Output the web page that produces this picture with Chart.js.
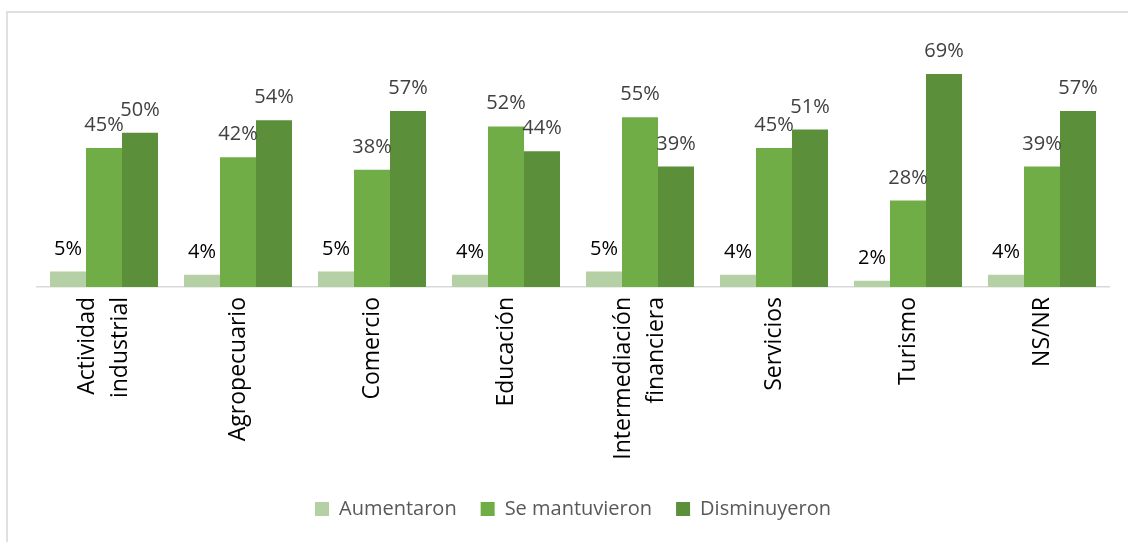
<!DOCTYPE html>
<html>
<head>
<meta charset="utf-8">
<script src="https://cdn.jsdelivr.net/npm/chart.js@4"></script>
<style>
  html, body { margin: 0; padding: 0; background: #fff; }
  #wrap { position: relative; width: 1128px; height: 542px; overflow: hidden; }
  #frame { position: absolute; left: 6px; top: 11px; width: 1200px; height: 600px; border: 2px solid #e0e0e0; box-sizing: border-box; }
  #chart { position: absolute; left: 0; top: 0; }
</style>
</head>
<body>
<div id="wrap">
  <div id="frame"></div>
  <canvas id="chart" width="1128" height="542"></canvas>
</div>
<script>
const categories = [
  ['Actividad', 'industrial'],
  'Agropecuario',
  'Comercio',
  'Educación',
  ['Intermediación', 'financiera'],
  'Servicios',
  'Turismo',
  'NS/NR'
];
const aumentaron = [5, 4, 5, 4, 5, 4, 2, 4];
const seMantuvieron = [45, 42, 38, 52, 55, 45, 28, 39];
const disminuyeron = [50, 54, 57, 44, 39, 51, 69, 57];

// labels above each bar
const barLabels = {
  id: 'barLabels',
  afterDatasetsDraw(chart) {
    const c = chart.ctx;
    c.save();
    c.font = '20px "Open Sans"';
    c.textAlign = 'center';
    c.textBaseline = 'alphabetic';
    chart.data.datasets.forEach((ds, i) => {
      const meta = chart.getDatasetMeta(i);
      c.fillStyle = i === 0 ? '#000000' : '#404040';
      meta.data.forEach((bar, j) => {
        c.fillText(ds.data[j] + '%', bar.x, bar.y - 17);
      });
    });
    c.restore();
  }
};

// center two-line rotated tick labels on their tick (chart.js puts the first line on it)
const centerMultiline = {
  id: 'centerMultiline',
  beforeDraw(chart) {
    const items = chart.scales.x.getLabelItems();
    items.forEach(item => {
      if (Array.isArray(item.label) && !item._shifted) {
        const n = item.label.length;
        item.options.translation[0] -= (n - 1) * item.font.lineHeight / 2;
        item._shifted = true;
      }
    });
  }
};

const ctx = document.getElementById('chart');

const chart = new Chart(ctx, {
  type: 'bar',
  data: {
    labels: categories,
    datasets: [
      { label: 'Aumentaron', data: aumentaron, backgroundColor: '#b4d0a4' },
      { label: 'Se mantuvieron', data: seMantuvieron, backgroundColor: '#70ad47' },
      { label: 'Disminuyeron', data: disminuyeron, backgroundColor: '#5b8f3a' }
    ]
  },
  options: {
    responsive: false,
    animation: false,
    categoryPercentage: 0.806,
    barPercentage: 1,
    layout: {
      padding: { left: 37, right: 19, top: 40, bottom: 13 }
    },
    scales: {
      x: {
        grid: { display: false, drawTicks: false },
        border: { display: true, color: '#d9d9d9', width: 1.5 },
        ticks: {
          color: '#000000',
          font: { family: 'Open Sans', size: 23, lineHeight: 1.45 },
          minRotation: 90,
          maxRotation: 90,
          padding: 10,
          autoSkip: false
        },
        afterFit(scale) { scale.height = 188; }
      },
      y: {
        display: false,
        min: 0,
        max: 80
      }
    },
    plugins: {
      legend: {
        position: 'bottom',
        labels: {
          color: '#595959',
          font: { family: 'Open Sans', size: 20 },
          boxWidth: 14,
          boxHeight: 14,
          padding: 24
        }
      },
      tooltip: { enabled: false }
    }
  },
  plugins: [barLabels, centerMultiline]
});
</script>
</body>
</html>
